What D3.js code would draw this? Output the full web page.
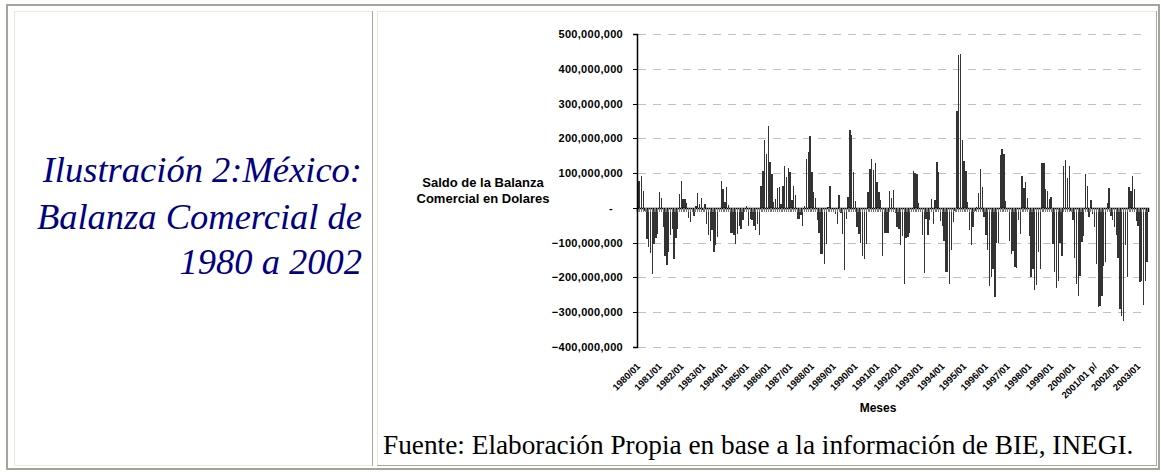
<!DOCTYPE html>
<html>
<head>
<meta charset="utf-8">
<script src="https://cdn.jsdelivr.net/npm/d3@7"></script>
<style>
  html, body { margin: 0; padding: 0; background: #fff; }
  svg { display: block; }
</style>
</head>
<body>
<div id="chart"></div>
<script>
// saldo mensual de la balanza comercial, millones de dolares
var saldo1980 = [78, 78, 92, 49, -8, -90, -112, -131, -190, -105, -88, -75];
var saldo1981 = [46, 28, -55, -137, -163, -126, -77, -60, -148, -88, -62, 40];
var saldo1982 = [78, 26, 26, 14, -28, -40, -10, -22, 5, 43, 12, 29];
var saldo1983 = [-5, 12, -45, -77, -94, -65, -128, -108, -85, -10, 78, 55];
var saldo1984 = [17, 60, 8, -71, -71, -79, -105, -74, -51, -62, -36, -10];
var saldo1985 = [5, -51, -31, -36, -51, -65, -45, -77, 63, 106, 195, 155];
var saldo1986 = [235, 132, 98, 17, 26, 57, 60, 10, 63, 121, 89, 115];
var saldo1987 = [103, 23, 63, 37, -31, -33, -20, -51, 5, 141, 161, 207];
var saldo1988 = [103, 46, 29, -34, -71, -132, -134, -160, -105, 3, 63, -10];
var saldo1989 = [-10, -19, -45, 37, -15, -74, -180, -33, 32, 223, 209, 103];
var saldo1990 = [20, -54, -74, -102, -137, -146, -105, 46, 112, 141, 109, 129];
var saldo1991 = [75, 46, 23, -137, -71, -71, -71, 49, 29, 52, -15, -56];
var saldo1992 = [-62, -108, -82, -220, -88, -85, -71, -10, 106, 100, 98, 14];
var saldo1993 = [-10, -77, -186, -33, -79, -36, 26, -45, 23, 132, 103, -39];
var saldo1994 = [-51, -94, -183, -183, -220, -121, -42, -10, 278, 439, 442, 195];
var saldo1995 = [135, 106, 17, -65, -108, -56, -10, 3, 43, 112, 60, -25];
var saldo1996 = [-79, -122, -226, -200, -177, -257, -100, -100, 152, 169, 155, 20];
var saldo1997 = [-10, -94, -134, -125, -171, -174, -36, -74, 92, 57, 75, 29];
var saldo1998 = [-82, -200, -177, -237, -223, -128, -177, 129, 129, 55, 49, 26];
var saldo1999 = [32, -105, -183, -230, -211, -100, -137, 121, 138, 86, 121, -10];
var saldo2000 = [-36, -143, -220, -254, -197, -97, -82, 98, 63, -25, 23, -19];
var saldo2001 = [-54, -160, -284, -281, -254, -166, -157, 14, 57, -22, -36, -54];
var saldo2002 = [-79, -143, -292, -312, -326, -108, -200, 60, 49, 92, 55, -39];
var saldo2003 = [-51, -214, -209, -278, -209, -157];

var years = d3.range(1980, 2004);
var yearTickLabels = ["1980/01", "1981/01", "1982/01", "1983/01", "1984/01", "1985/01",
  "1986/01", "1987/01", "1988/01", "1989/01", "1990/01", "1991/01", "1992/01", "1993/01",
  "1994/01", "1995/01", "1996/01", "1997/01", "1998/01", "1999/01", "2000/01", "2001/01 p/",
  "2002/01", "2003/01"];
var yTicks = [500, 400, 300, 200, 100, 0, -100, -200, -300, -400];

var series = [saldo1980, saldo1981, saldo1982, saldo1983, saldo1984, saldo1985, saldo1986,
  saldo1987, saldo1988, saldo1989, saldo1990, saldo1991, saldo1992, saldo1993, saldo1994,
  saldo1995, saldo1996, saldo1997, saldo1998, saldo1999, saldo2000, saldo2001, saldo2002, saldo2003];

var data = [];
series.forEach(function(vals, k) {
  vals.forEach(function(v, m) {
    var mes = years[k] + "/" + (m < 9 ? "0" : "") + (m + 1);
    data.push({ mes: mes, value: v * 1e6, tick: m == 0 ? yearTickLabels[k] : null });
  });
});

var W = 1161, H = 476;
var svg = d3.select("#chart").append("svg")
  .attr("width", W)
  .attr("height", H);

svg.append("rect").attr("width", W).attr("height", H).attr("fill", "#fff");

// bordes de la tabla
var frame = svg.append("g").attr("shape-rendering", "crispEdges").attr("fill", "none");
frame.append("rect").attr("x", 7).attr("y", 5).attr("width", 1152).attr("height", 464)
  .attr("stroke", "#a5a49c").attr("stroke-width", 2);
frame.append("rect").attr("x", 14.5).attr("y", 11.5).attr("width", 358).attr("height", 454)
  .attr("stroke", "#ece9d8");
frame.append("line").attr("x1", 372.5).attr("x2", 372.5).attr("y1", 11).attr("y2", 466)
  .attr("stroke", "#aca899");
frame.append("rect").attr("x", 377.5).attr("y", 11.5).attr("width", 779).attr("height", 454)
  .attr("stroke", "#ece9d8");
frame.append("line").attr("x1", 1156.5).attr("x2", 1156.5).attr("y1", 11).attr("y2", 466)
  .attr("stroke", "#aca899");
frame.append("line").attr("x1", 377).attr("x2", 1157).attr("y1", 465.5).attr("y2", 465.5)
  .attr("stroke", "#aca899");

// titulo a la izquierda
var titleLines = ["Ilustración 2:México:", "Balanza Comercial de", "1980 a 2002"];
svg.append("g").selectAll("text")
  .data(titleLines)
  .enter().append("text")
  .attr("x", 362)
  .attr("y", function(d, i) { return [182, 229, 274][i]; })
  .attr("text-anchor", "end")
  .style("font-family", "'Liberation Serif', 'Times New Roman', serif")
  .style("font-style", "italic")
  .style("font-size", "36.5px")
  .style("fill", "#000080")
  .text(function(d) { return d; });

// escalas
var x = d3.scaleBand()
  .domain(data.map(function(d) { return d.mes; }))
  .range([637, 1148])
  .paddingInner(0.25)
  .paddingOuter(0.1);

var y = d3.scaleLinear()
  .domain([-400e6, 500e6])
  .range([347, 34]);

// rejilla punteada
svg.append("g")
  .selectAll("line")
  .data(yTicks.filter(function(t) { return t != 0; }))
  .enter().append("line")
  .attr("x1", 638).attr("x2", 1148)
  .attr("y1", function(d) { return Math.round(y(d * 1e6)) + 0.5; })
  .attr("y2", function(d) { return Math.round(y(d * 1e6)) + 0.5; })
  .attr("stroke", "#c0c0c0")
  .attr("stroke-dasharray", "8,7")
  .attr("shape-rendering", "crispEdges");

// barras
svg.append("g")
  .attr("shape-rendering", "crispEdges")
  .selectAll("rect")
  .data(data)
  .enter().append("rect")
  .attr("x", function(d) { return x(d.mes); })
  .attr("width", x.bandwidth())
  .attr("y", function(d) { return y(Math.max(0, d.value)); })
  .attr("height", function(d) { return Math.abs(y(d.value) - y(0)); })
  .attr("fill", "#333333");

// eje x en cero, marcas por mes
var xAxis = svg.append("g")
  .attr("transform", "translate(0," + Math.round(y(0)) + ")")
  .call(d3.axisBottom(x).tickSize(4).tickFormat(""));
xAxis.select(".domain").attr("stroke", "#000").attr("stroke-width", 1.5);
xAxis.selectAll(".tick line").attr("stroke", "#777").attr("shape-rendering", "crispEdges");

// eje y
var yAxis = svg.append("g")
  .attr("transform", "translate(637,0)")
  .call(d3.axisLeft(y)
    .tickValues(yTicks.map(function(t) { return t * 1e6; }))
    .tickSize(4)
    .tickPadding(10)
    .tickFormat(function(d) { return d == 0 ? "-" : d3.format(",")(d); }));
yAxis.select(".domain").attr("stroke", "#000").attr("stroke-width", 1.5);
yAxis.selectAll(".tick line").attr("stroke", "#000").attr("shape-rendering", "crispEdges");
yAxis.selectAll(".tick text")
  .style("font-family", "'Liberation Sans', Arial, sans-serif")
  .style("font-weight", "bold")
  .style("font-size", "11px")
  .style("letter-spacing", "0.3px")
  .attr("fill", "#000")
  .attr("dx", function(d) { return d == 0 ? -10 : 0; });

// etiquetas de meses, una por ano
svg.append("g")
  .selectAll("text")
  .data(data.filter(function(d) { return d.tick; }))
  .enter().append("text")
  .attr("transform", function(d) {
    return "translate(" + (x(d.mes) + x.bandwidth() / 2 + 3) + ",367) rotate(-45)";
  })
  .attr("text-anchor", "end")
  .style("font-family", "'Liberation Sans', Arial, sans-serif")
  .style("font-weight", "bold")
  .style("font-size", "9.5px")
  .text(function(d) { return d.tick; });

// titulos de ejes
svg.append("text")
  .attr("x", 483).attr("y", 187)
  .attr("text-anchor", "middle")
  .style("font-family", "'Liberation Sans', Arial, sans-serif")
  .style("font-weight", "bold")
  .style("font-size", "13px")
  .selectAll("tspan")
  .data(["Saldo de la Balanza", "Comercial en Dolares"])
  .enter().append("tspan")
  .attr("x", 483)
  .attr("dy", function(d, i) { return i ? 16 : 0; })
  .text(function(d) { return d; });

svg.append("text")
  .attr("x", 878).attr("y", 412)
  .attr("text-anchor", "middle")
  .style("font-family", "'Liberation Sans', Arial, sans-serif")
  .style("font-weight", "bold")
  .style("font-size", "12px")
  .text("Meses");

svg.append("text")
  .attr("x", 383).attr("y", 454)
  .style("font-family", "'Liberation Serif', 'Times New Roman', serif")
  .style("font-size", "27.3px")
  .text("Fuente: Elaboración Propia en base a la información de BIE, INEGI.");
</script>
</body>
</html>
